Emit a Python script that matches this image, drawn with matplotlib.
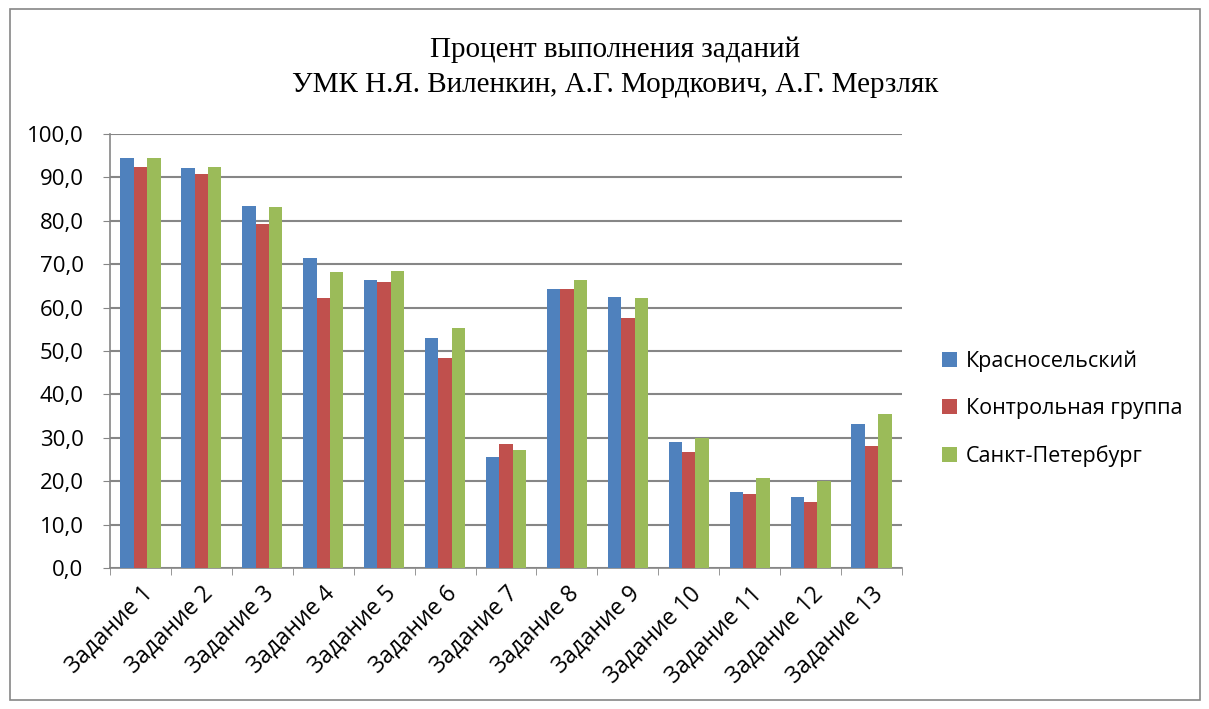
import matplotlib
matplotlib.use("Agg")
import matplotlib.pyplot as plt
import numpy as np
from matplotlib.patches import Rectangle

categories = [f"Задание {i}" for i in range(1, 14)]
series_names = ["Красносельский", "Контрольная группа", "Санкт-Петербург"]
krasnoselsky = [94.5, 92.1, 83.5, 71.4, 66.3, 53.0, 25.6, 64.4, 62.4, 29.0, 17.6, 16.3, 33.2]
control = [92.4, 90.7, 79.2, 62.2, 65.9, 48.4, 28.5, 64.4, 57.5, 26.8, 17.1, 15.2, 28.2]
spb = [94.5, 92.4, 83.2, 68.1, 68.5, 55.3, 27.2, 66.3, 62.1, 29.9, 20.7, 20.0, 35.4]
colors = ["#4F81BD", "#C0504D", "#9BBB59"]
yticks = np.arange(0, 101, 10)

W, H = 1209, 709
fig = plt.figure(figsize=(W / 100, H / 100), dpi=100)
fig.patch.set_facecolor("white")
fig.add_artist(Rectangle((10 / W, 9 / H), 1190 / W, 691 / H, transform=fig.transFigure,
                         fill=False, edgecolor="#868686", linewidth=1.2))

ax = fig.add_axes([110 / W, 1 - 568 / H, 792 / W, 434 / H])
x = np.arange(len(categories))
bw = 0.22
for i, (vals, c) in enumerate(zip([krasnoselsky, control, spb], colors)):
    ax.bar(x + (i - 1) * bw, vals, bw, color=c, label=series_names[i], zorder=3)

ax.set_xlim(-0.5, len(categories) - 0.5)
ax.set_ylim(0, 100)
ax.set_yticks(yticks)
ax.set_yticklabels([f"{v:.1f}".replace(".", ",") for v in yticks], fontsize=16, family="Open Sans")
ax.yaxis.grid(True, color="#868686", linewidth=1.5, zorder=0)
ax.set_xticks(x)
ax.set_xticklabels(categories, rotation=45, ha="right", rotation_mode="anchor",
                   fontsize=16.5, family="Open Sans")
ax.set_xticks(np.arange(-0.5, len(categories), 1), minor=True)
ax.tick_params(axis="x", which="major", length=0, pad=10)
ax.tick_params(axis="x", which="minor", length=5, color="#868686")
ax.tick_params(axis="y", length=5, color="#868686", pad=14)
for s in ["top", "right"]:
    ax.spines[s].set_visible(False)
for s in ["left", "bottom"]:
    ax.spines[s].set_color("#868686")
    ax.spines[s].set_linewidth(1.2)

fig.text(615 / W, 1 - 50 / H, "Процент выполнения заданий", ha="center", va="center",
         fontsize=21, family="Liberation Serif")
fig.text(615 / W, 1 - 85 / H, "УМК Н.Я. Виленкин, А.Г. Мордкович, А.Г. Мерзляк",
         ha="center", va="center", fontsize=21, family="Liberation Serif")

leg = ax.legend(loc="center left", bbox_to_anchor=(923 / W, 1 - 409 / H),
                bbox_transform=fig.transFigure, frameon=False,
                prop={"family": "Open Sans", "size": 15.5},
                handlelength=0.7, handleheight=0.7, labelspacing=1.2, handletextpad=0.4)

fig.savefig("out.png", dpi=100, facecolor="white")
